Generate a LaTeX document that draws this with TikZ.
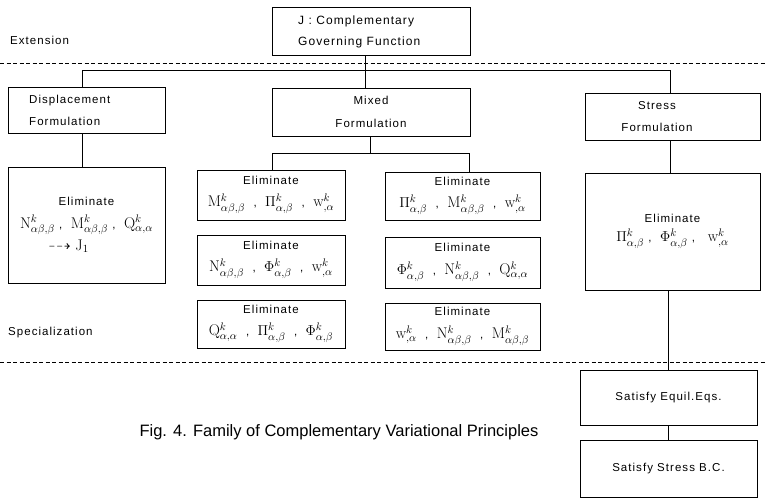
\documentclass[tikz,border=0pt]{standalone}
\usepackage{fontspec}
\usepackage{amssymb}
\newfontfamily\boxfont[LetterSpace=9]{Liberation Sans}
\newfontfamily\capfont{Liberation Sans}
\newcommand{\mth}[1]{{\fontsize{15.5}{17}\selectfont$#1$}}
\newcommand{\cm}{\ \ ,\ \ }
\begin{document}
\begin{tikzpicture}[x=1pt,y=-1pt,
  box/.style={draw, line width=0.7pt, inner sep=0pt, align=center,
    font=\boxfont\fontsize{11.5}{22.5}\selectfont},
  lbl/.style={inner sep=0pt, align=left, font=\boxfont\fontsize{11.5}{22}\selectfont},
  conn/.style={line width=0.7pt},
  sep/.style={line width=0.6pt, dash pattern=on 4pt off 2.5pt}]
\useasboundingbox (0,0) rectangle (765,501);
% separators
\draw[sep] (0,63) -- (765,63);
\draw[sep] (0,362) -- (765,362);
\node[lbl, anchor=west] (ext) at (10,40) {Extension};
\node[lbl, anchor=west] (spec) at (8,333) {Specialization};
% boxes
\node[box, minimum width=198pt, minimum height=48pt] (J) at (371,31) {};
\node[lbl, anchor=west, font=\boxfont\fontsize{12}{21}\selectfont] (Jt) at (298,32) {J : Complementary\\Governing Function};
\node[box, minimum width=157pt, minimum height=46pt] (D) at (86.5,110) {};
\node[lbl, anchor=west] (Dt) at (29,110) {Displacement\\Formulation};
\node[box, minimum width=198pt, minimum height=48pt] (M) at (371,112) {Mixed\\Formulation};
\node[box, minimum width=175pt, minimum height=47pt] (S) at (672.5,116.5) {};
\node[lbl, align=center] (St) at (657,117) {Stress\\Formulation};
\node[box, minimum width=157pt, minimum height=116pt] (DE) at (86.5,225)
  {Eliminate\\
   \mth{\mathrm{N}^k_{\alpha\beta,\beta}}\ ,\ \ \mth{\mathrm{M}^k_{\alpha\beta,\beta}}\ ,\ \ \mth{\mathrm{Q}^k_{\alpha,\alpha}}\\
   \hspace*{-36pt}\mth{\dashrightarrow\mathrm{J}_1}};
\node[box, minimum width=148pt, minimum height=50pt] (L1) at (271,195)
  {Eliminate\\ \mth{\mathrm{M}^k_{\alpha\beta,\beta}}\cm\mth{\Pi^k_{\alpha,\beta}}\cm\mth{\mathrm{w}^k_{,\alpha}}};
\node[box, minimum width=148pt, minimum height=50pt] (L2) at (271,260)
  {Eliminate\\ \mth{\mathrm{N}^k_{\alpha\beta,\beta}}\cm\mth{\Phi^k_{\alpha,\beta}}\cm\mth{\mathrm{w}^k_{,\alpha}}};
\node[box, minimum width=148pt, minimum height=48pt] (L3) at (271,324)
  {Eliminate\\ \mth{\mathrm{Q}^k_{\alpha,\alpha}}\cm\mth{\Pi^k_{\alpha,\beta}}\cm\mth{\Phi^k_{\alpha,\beta}}};
\node[box, minimum width=155pt, minimum height=48pt] (R1) at (462.5,196)
  {Eliminate\\ \mth{\Pi^k_{\alpha,\beta}}\cm\mth{\mathrm{M}^k_{\alpha\beta,\beta}}\cm\mth{\mathrm{w}^k_{,\alpha}}};
\node[box, minimum width=155pt, minimum height=51pt] (R2) at (462.5,262.5)
  {Eliminate\\ \mth{\Phi^k_{\alpha,\beta}}\cm\mth{\mathrm{N}^k_{\alpha\beta,\beta}}\cm\mth{\mathrm{Q}^k_{\alpha,\alpha}}};
\node[box, minimum width=155pt, minimum height=47pt] (R3) at (462.5,326.5)
  {Eliminate\\ \mth{\mathrm{w}^k_{,\alpha}}\cm\mth{\mathrm{N}^k_{\alpha\beta,\beta}}\cm\mth{\mathrm{M}^k_{\alpha\beta,\beta}}};
\node[box, minimum width=175pt, minimum height=117pt] (SE) at (672.5,231.5)
  {Eliminate\\[-3pt] \mth{\Pi^k_{\alpha,\beta}}\ ,\ \ \mth{\Phi^k_{\alpha,\beta}}\ ,\ \ \ \mth{\mathrm{w}^k_{,\alpha}}};
\node[box, minimum width=177pt, minimum height=55pt] (EQ) at (668.5,397.5) {Satisfy Equil.Eqs.};
\node[box, minimum width=177pt, minimum height=57pt] (BC) at (668.5,468.5) {Satisfy Stress B.C.};
% caption
\node[inner sep=0pt, font=\capfont\fontsize{16.5}{20}\selectfont] (cap) at (339,432)
  {Fig. 4. Family of Complementary Variational Principles};
% connectors
\coordinate (tj) at (365,70);
\coordinate (hl) at (82,70);
\coordinate (hr) at (670,70);
\draw[conn] (J.south -| tj) -- (M.north -| tj);
\draw[conn] (D.north -| hl) -- (hl) -- (hr) -- (S.north -| hr);
\draw[conn] (D.south -| hl) -- (DE.north -| hl);
\coordinate (mj) at (370,153);
\coordinate (ml) at (272,153);
\coordinate (mr) at (469,153);
\draw[conn] (M.south -| mj) -- (mj);
\draw[conn] (L1.north -| ml) -- (ml) -- (mr) -- (R1.north -| mr);
\draw[conn] (S.south -| hr) -- (SE.north -| hr);
\draw[conn] (SE.south -| EQ.north) -- (EQ.north);
\draw[conn] (EQ.south) -- (BC.north);
\end{tikzpicture}
\end{document}
